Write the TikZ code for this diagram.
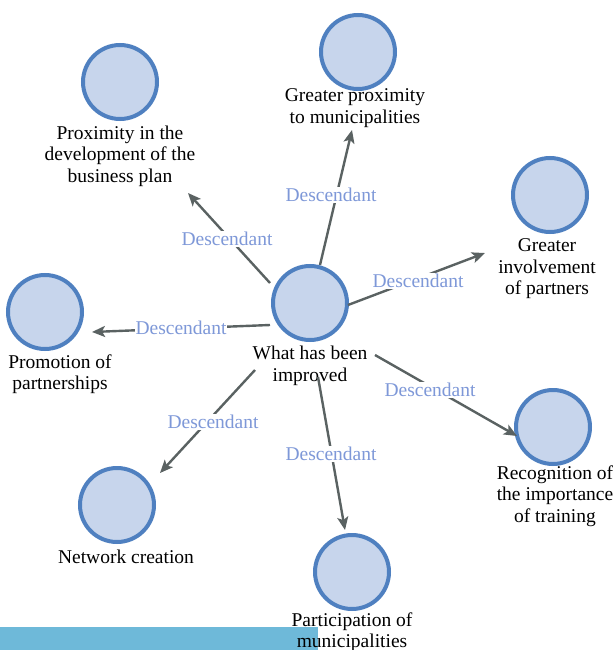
\documentclass[tikz,border=0pt]{standalone}
\usepackage{fontspec}
\setmainfont{Liberation Serif}
\usetikzlibrary{arrows.meta}
\definecolor{cfill}{HTML}{C7D5EC}
\definecolor{cdraw}{HTML}{4F80C0}
\definecolor{edgec}{HTML}{5A6262}
\definecolor{lblc}{HTML}{7E98D8}
\definecolor{barc}{HTML}{6EB9D9}
\tikzset{
  circ/.style={circle, fill=cfill, draw=cdraw, line width=4pt, minimum size=74pt, inner sep=0pt},
  txt/.style={align=center, font=\fontsize{19.5}{21.5}\selectfont, inner sep=0pt, text=black},
  lbl/.style={font=\fontsize{19.5}{21.5}\selectfont, text=lblc, fill=white, inner sep=1pt},
  arr/.style={draw=edgec, line width=2.4pt, -{Stealth[length=13pt,width=11pt,inset=3pt]}}
}
\begin{document}
\begin{tikzpicture}[x=1pt,y=-1pt]
\useasboundingbox (0,0) rectangle (613,650);
\fill[barc] (0,627) rectangle (318,650);
% circles
\node[circ] (c)  at (310,303) {};
\node[circ] (t)  at (358,52) {};
\node[circ] (ul) at (120,82) {};
\node[circ] (ru) at (550,195) {};
\node[circ] (l)  at (45,312) {};
\node[circ] (rl) at (553,427) {};
\node[circ] (bl) at (117,505) {};
\node[circ] (b)  at (352,572) {};
% texts
\node[txt] (tc)  at (310,366) {What has been\\improved};
\node[txt] (tt)  at (355,108) {Greater proximity\\to municipalities};
\node[txt] (tul) at (120,156) {Proximity in the\\development of the\\business plan};
\node[txt] (tru) at (547,269) {Greater\\involvement\\of partners};
\node[txt] (tl)  at (60,374) {Promotion of\\partnerships};
\node[txt] (trl) at (555,496) {Recognition of\\the importance\\of training};
\node[txt] (tbl) at (126,557) {Network creation};
\node[txt] (tb)  at (352,632) {Participation of\\municipalities};
% connector end points
\coordinate (s1) at (320,265); \coordinate (e1) at (352,130);
\coordinate (s2) at (270,283); \coordinate (e2) at (188,193);
\coordinate (s3) at (348,305); \coordinate (e3) at (485,253);
\coordinate (s4) at (270,325); \coordinate (e4) at (92,332);
\coordinate (s5) at (375,355); \coordinate (e5) at (517,436);
\coordinate (s6) at (255,370); \coordinate (e6) at (160,473);
\coordinate (s7) at (318,377); \coordinate (e7) at (345,530);
\draw[arr] (s1) -- (e1);
\draw[arr] (s2) -- (e2);
\draw[arr] (s3) -- (e3);
\draw[arr] (s4) -- (e4);
\draw[arr] (s5) -- (e5);
\draw[arr] (s6) -- (e6);
\draw[arr] (s7) -- (e7);
% labels
\node[lbl] (d1) at (331,195) {Descendant};
\node[lbl] (d2) at (227,239) {Descendant};
\node[lbl] (d3) at (418,281) {Descendant};
\node[lbl] (d4) at (181,328) {Descendant};
\node[lbl] (d5) at (430,390) {Descendant};
\node[lbl] (d6) at (213,422) {Descendant};
\node[lbl] (d7) at (331,454) {Descendant};
\end{tikzpicture}
\end{document}
